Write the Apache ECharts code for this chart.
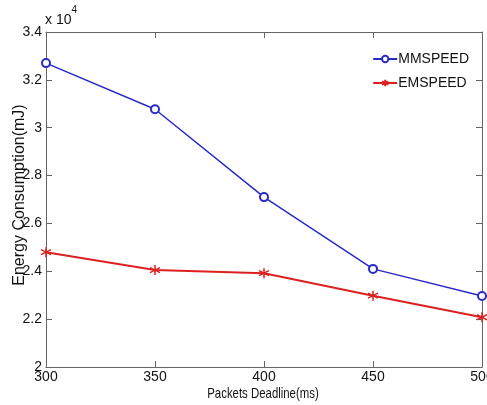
<!DOCTYPE html>
<html>
<head>
<meta charset="utf-8">
<script src="https://cdn.jsdelivr.net/npm/echarts@6/dist/echarts.min.js"></script>
<style>
  html, body { margin: 0; padding: 0; background: #fff; }
  #chart { width: 487px; height: 405px; }
</style>
</head>
<body>
<div id="chart"></div>
<script>
// data (energy in mJ)
var deadlines = [300, 350, 400, 450, 500]
var mmspeed = [32700, 30770, 27100, 24100, 22970]
var emspeed = [24800, 24050, 23920, 22980, 22080]
var seriesNames = ['MMSPEED', 'EMSPEED']
var xTitle = 'Packets Deadline(ms)'
var yTitle = 'Energy Consumption(mJ)'

var font = '"Liberation Sans", Arial, sans-serif'
var asterisk = 'path://M0,-5L0,5M-4.3,-2.5L4.3,2.5M-4.3,2.5L4.3,-2.5'

var chart = echarts.init(document.getElementById('chart'))

function boxAxis(extra) {
  // plain axis used to draw the MATLAB-style box with inward ticks
  return Object.assign({
    type: 'value',
    axisLine: { show: true, onZero: false, lineStyle: { color: '#666', width: 1 } },
    axisTick: { show: true, inside: true, length: 6, lineStyle: { color: '#666' } },
    axisLabel: { show: false },
    splitLine: { show: false }
  }, extra)
}

var option = {
  animation: false,
  backgroundColor: '#fff',
  grid: { left: 46, right: 5, top: 32, bottom: 38, containLabel: false, outerBoundsMode: 'none' },
  legend: {
    orient: 'vertical',
    right: 13,
    top: 47,
    itemGap: 10,
    itemWidth: 24,
    itemHeight: 8,
    textStyle: { fontFamily: font, fontSize: 14, color: '#111', padding: [0, 0, 0, -4] },
    data: seriesNames
  },
  xAxis: [
    boxAxis({
      min: 300, max: 500, interval: 50,
      axisLabel: { show: true, fontFamily: font, fontSize: 14, color: '#111', margin: 3 }
    }),
    boxAxis({ min: 300, max: 500, interval: 50, position: 'top' })
  ],
  yAxis: [
    boxAxis({
      min: 20000, max: 34000, interval: 2000,
      axisLabel: {
        show: true, fontFamily: font, fontSize: 14, color: '#111', margin: 4,
        formatter: function (v) { return String(v / 10000) }
      }
    }),
    boxAxis({ min: 20000, max: 34000, interval: 2000, position: 'right' })
  ],
  graphic: [
    {
      type: 'text',
      left: 45,
      top: 5,
      style: {
        text: '{a|x 10}{b|4}',
        rich: {
          a: { fontFamily: font, fontSize: 14, fill: '#111', padding: [8, 0, 0, 0] },
          b: { fontFamily: font, fontSize: 10, fill: '#111', verticalAlign: 'top' }
        }
      }
    },
    {
      // x title squeezed to match the narrow font of the original figure
      type: 'text',
      x: 263, y: 394,
      scaleX: 0.76,
      style: { text: xTitle, fontFamily: font, fontSize: 15, fill: '#111', align: 'center', verticalAlign: 'middle' }
    },
    {
      type: 'text',
      x: 20, y: 195,
      rotation: Math.PI / 2,
      style: { text: yTitle, fontFamily: font, fontSize: 16, fill: '#111', align: 'center', verticalAlign: 'middle' }
    }
  ],
  series: [
    {
      name: seriesNames[0],
      type: 'line',
      data: deadlines.map(function (d, i) { return [d, mmspeed[i]] }),
      symbol: 'emptyCircle',
      symbolSize: 8,
      color: '#2a2ac8',
      lineStyle: { color: '#2a2ac8', width: 1.5 },
      itemStyle: { color: '#2a2ac8', borderWidth: 1.2 }
    },
    {
      name: seriesNames[1],
      type: 'line',
      data: deadlines.map(function (d, i) { return [d, emspeed[i]] }),
      symbol: asterisk,
      symbolSize: 10,
      color: '#dd2020',
      lineStyle: { color: '#dd2020', width: 2 },
      itemStyle: { color: '#dd2020', borderColor: '#dd2020', borderWidth: 1.5 }
    }
  ]
}

chart.setOption(option)
</script>
</body>
</html>
